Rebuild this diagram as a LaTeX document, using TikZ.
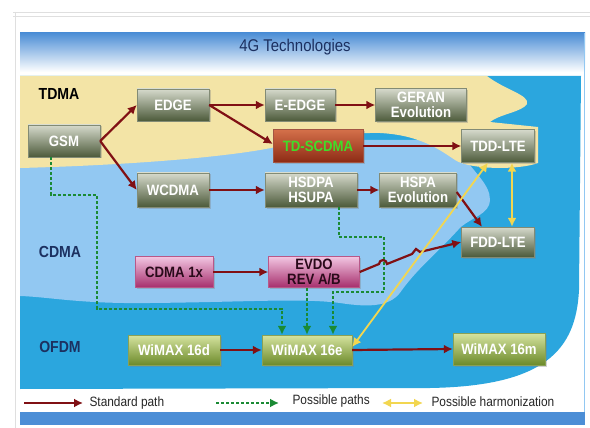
\documentclass[tikz,border=0pt]{standalone}
\usepackage{fontspec}
\setmainfont{Liberation Sans}
\newfontfamily\narrowsans[FakeStretch=0.88]{Liberation Sans}
\usepackage{tikz}
\usetikzlibrary{arrows.meta,shapes,positioning,shadows,calc}
\usepackage{xcolor}
\definecolor{tgnavy}{RGB}{28,48,96}
\definecolor{tgtitle}{RGB}{76,142,214}
\definecolor{tgyellow}{RGB}{243,228,166}
\definecolor{tglightblue}{RGB}{146,200,242}
\definecolor{tgblue}{RGB}{43,166,222}
\definecolor{tgred}{RGB}{128,16,20}
\definecolor{tggreen}{RGB}{26,138,52}
\definecolor{tgharm}{RGB}{242,214,80}
\definecolor{boxtop}{RGB}{214,218,204}
\definecolor{boxbot}{RGB}{76,90,58}
\definecolor{tdtop}{RGB}{212,112,74}
\definecolor{tdbot}{RGB}{140,42,20}
\definecolor{cdtop}{RGB}{242,198,226}
\definecolor{cdbot}{RGB}{166,46,108}
\definecolor{wmtop}{RGB}{214,228,160}
\definecolor{wmbot}{RGB}{108,138,42}
\tikzstyle{tech} = [rectangle, minimum width=72pt, minimum height=32pt, inner sep=0pt, align=center, text centered, top color=boxtop, bottom color=boxbot, draw=boxbot!70, thin, text=white, font=\narrowsans\bfseries\fontsize{15}{15}\selectfont, drop shadow={opacity=0.35, shadow xshift=1.5pt, shadow yshift=-1.5pt}]
\tikzstyle{tdtech} = [tech, top color=tdtop, bottom color=tdbot, draw=tdbot!80, text={rgb,255:red,64;green,220;blue,40}]
\tikzstyle{cdtech} = [tech, top color=cdtop, bottom color=cdbot, draw=cdbot!80, text={rgb,255:red,42;green,10;blue,26}]
\tikzstyle{wmtech} = [tech, top color=wmtop, bottom color=wmbot, draw=wmbot!80]
\tikzstyle{family} = [font=\narrowsans\bfseries\fontsize{16}{16}\selectfont, text=tgnavy]
\tikzstyle{stdpath} = [line width=2.2pt, -{Latex[length=9pt,width=9pt]}, color=tgred]
\tikzstyle{posspath} = [line width=1.8pt, dash pattern=on 3pt off 2pt, -{Latex[length=9pt,width=9pt]}, color=tggreen]
\tikzstyle{harmpath} = [line width=1.8pt, {Latex[length=9pt,width=9pt]}-{Latex[length=9pt,width=9pt]}, color=tgharm]
\tikzstyle{legendtext} = [anchor=west, font=\narrowsans\fontsize{13.5}{13.5}\selectfont, text=black!85]

\begin{document}
\begin{tikzpicture}[x=1pt, y=-1pt]
    \useasboundingbox (0,0) rectangle (590,428);
    \fill[white] (0,0) rectangle (590,428);

    % Page frame
    \draw[gray!25] (13,12) -- (590,12) (13,16) -- (590,16) (15,12) -- (15,428);
    \fill[top color=tgtitle, bottom color=white] (20,33) rectangle (585,72);
    \fill[tgtitle] (20,412) rectangle (585,425);
    \draw[tglightblue] (584,33) -- (584,412);

    % Regions
    \fill[tgblue] (20,76) -- (581,76) -- (579,290) .. controls (576,350) and (545,386) .. (430,388) -- (20,389) -- cycle;
    \fill[tglightblue] (20,140) -- (462,140) -- (470,165) .. controls (478,176) and (494,190) .. (489,205)
        .. controls (485,216) and (466,220) .. (458,230) .. controls (440,250) and (418,268) .. (402,290)
        .. controls (392,306) and (372,308) .. (340,303) .. controls (300,298) and (250,302) .. (150,303)
        .. controls (80,304) and (50,297) .. (20,296) -- cycle;
    \fill[tgyellow] (20,76) -- (487,76) .. controls (505,90) and (530,95) .. (527,104)
        .. controls (522,112) and (500,114) .. (490,122) -- (538,127) -- (538,163)
        .. controls (520,170) and (470,170) .. (455,160) .. controls (440,150) and (420,135) .. (380,133)
        .. controls (340,132) and (300,143) .. (260,150) .. controls (200,160) and (100,166) .. (20,168) -- cycle;

    % Title and families
    \node[font=\narrowsans\fontsize{17}{17}\selectfont, text=tgnavy] (title) at (295,47) {4G Technologies};
    \node[family, text=black] (tdma) at (59,94) {TDMA};
    \node[family] (cdma) at (60,252) {CDMA};
    \node[family] (ofdm) at (60,347) {OFDM};

    % TDMA row
    \node[tech] (gsm) at (64,141) {GSM};
    \node[tech] (edge) at (173,105) {EDGE};
    \node[tech, minimum width=70pt] (eedge) at (300,105) {E-EDGE};
    \node[tech, minimum width=91pt, minimum height=33pt] (geran) at (421,105) {GERAN\\Evolution};
    \node[tdtech, minimum width=90pt, minimum height=33pt] (tdscdma) at (318,146) {TD-SCDMA};
    \node[tech, minimum width=73pt, minimum height=33pt] (tddlte) at (498,146) {TDD-LTE};

    % CDMA rows
    \node[tech, minimum height=34pt] (wcdma) at (173,190) {WCDMA};
    \node[tech, minimum width=92pt, minimum height=34pt] (hsdpa) at (311,190) {HSDPA\\HSUPA};
    \node[tech, minimum width=77pt, minimum height=34pt] (hspa) at (418,190) {HSPA\\Evolution};
    \node[tech, minimum width=73pt, minimum height=30pt] (fddlte) at (498,242) {FDD-LTE};
    \node[cdtech, minimum width=78pt, minimum height=31pt] (cdmaone) at (174,272) {CDMA 1x};
    \node[cdtech, minimum width=91pt, minimum height=31pt] (evdo) at (314,272) {EVDO\\REV A/B};

    % OFDM row
    \node[wmtech, minimum width=92pt, minimum height=30pt] (wimaxd) at (174,350) {WiMAX 16d};
    \node[wmtech, minimum width=90pt, minimum height=30pt] (wimaxe) at (307,350) {WiMAX 16e};
    \node[wmtech, minimum width=92pt, minimum height=32pt] (wimaxm) at (499,349) {WiMAX 16m};

    % Possible paths
    \draw[posspath] ([xshift=-13pt]gsm.south) |- (97,195) |- (282,309) -- ([xshift=-25pt]wimaxe.north);
    \draw[posspath] (wimaxe.north |- evdo.south) -- (wimaxe.north);
    \draw[posspath] ([xshift=28pt]hsdpa.south) |- (384,237) |- (333,292) -- ([xshift=26pt]wimaxe.north);

    % Standard paths
    \draw[stdpath] (gsm.east) -- (edge.west);
    \draw[stdpath] (gsm.east) -- (wcdma.west);
    \draw[stdpath] (edge.east) -- (eedge.west);
    \draw[stdpath] (eedge.east) -- (geran.west);
    \draw[stdpath] (edge.east) -- ([yshift=2pt]tdscdma.west);
    \draw[stdpath] (tdscdma.east) -- (tddlte.west);
    \draw[stdpath] (wcdma.east) -- (hsdpa.west);
    \draw[stdpath] (hsdpa.east) -- (hspa.west);
    \draw[stdpath] ([yshift=-2pt]hspa.east) -- ([xshift=-16pt]fddlte.north);
    \draw[stdpath] (cdmaone.east) -- (evdo.west);
    \draw[stdpath] (evdo.east) -- (379,264) arc[start angle=180, end angle=360, radius=4]
        -- (412,254) -- (416,249) -- (420,252) -- (fddlte.west);
    \draw[stdpath] (wimaxd.east) -- (wimaxe.west);
    \draw[stdpath] (wimaxe.east) -- (wimaxm.west);

    % Possible harmonization
    \draw[harmpath] ([yshift=3pt]wimaxe.east) -- ([xshift=-10pt]tddlte.south);
    \draw[harmpath] ([xshift=14pt]tddlte.south) -- ([xshift=14pt]fddlte.north);

    % Legend
    \coordinate (lgstda) at (24,403);
    \coordinate (lgstdb) at (83,403);
    \coordinate (lgpossa) at (216,403);
    \coordinate (lgpossb) at (279,403);
    \coordinate (lgharma) at (382,403);
    \coordinate (lgharmb) at (423,403);
    \draw[stdpath] (lgstda) -- (lgstdb);
    \node[legendtext] (lgstd) at (86,403) {Standard path};
    \draw[posspath] (lgpossa) -- (lgpossb);
    \node[legendtext] (lgposs) at (289,401) {Possible paths};
    \draw[harmpath] (lgharma) -- (lgharmb);
    \node[legendtext] (lgharm) at (428,402) {Possible harmonization};
\end{tikzpicture}
\end{document}
